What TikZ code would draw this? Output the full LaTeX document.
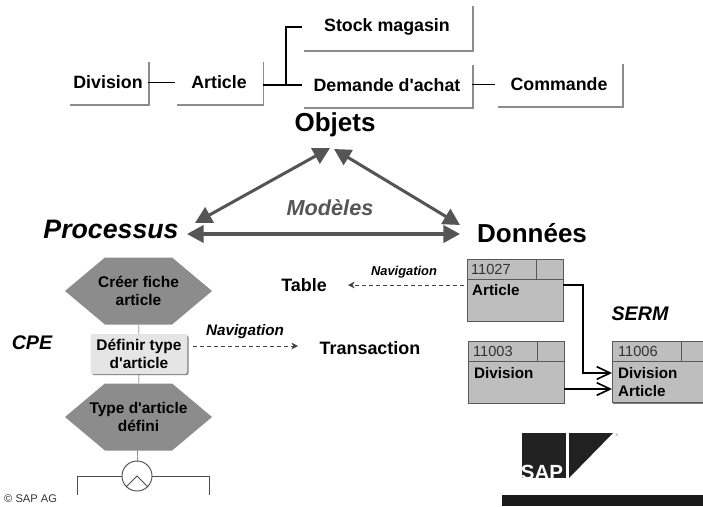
\documentclass[tikz,border=0pt]{standalone}
\usepackage{fontspec}
\setmainfont{Liberation Sans}
\usepackage[HTML]{xcolor}
\usetikzlibrary{positioning, arrows.meta, shadows, shapes.symbols}
\definecolor{hexgray}{HTML}{8C8C8C}
\definecolor{tabgray}{HTML}{BEBEBE}
\definecolor{arrowgray}{HTML}{555555}
\tikzset{
  whitebox/.style={rectangle,fill=white,text=black,font=\fontsize{15.2}{17}\selectfont\bfseries,drop shadow={shadow xshift=1.6pt,shadow yshift=-1.6pt,fill=black!45,opacity=1}},
  hexbox/.style={shape=signal,signal to=east and west,signal pointer angle=80,fill=hexgray,minimum width=4.41cm,minimum height=2.01cm,inner sep=0pt},
  hextxt/.style={align=center,inner sep=0pt,font=\fontsize{13.2}{15.8}\selectfont\bfseries},
  tabbox/.style={rectangle,fill=tabgray,draw=black!65,thick,drop shadow={shadow xshift=1.2pt,shadow yshift=-1.2pt,fill=gray,opacity=1}},
  tabtxt/.style={font=\fontsize{13}{15.5}\selectfont\bfseries,anchor=west,align=left},
  tabnum/.style={font=\fontsize{12.5}{15}\selectfont,text=black!80,anchor=west},
  bigtxt/.style={font=\fontsize{22.2}{24}\selectfont\bfseries},
  medtxt/.style={font=\fontsize{15.3}{17}\selectfont\bfseries},
  navtxt/.style={font=\fontsize{11}{13}\selectfont\bfseries\itshape},
  captxt/.style={font=\fontsize{16.8}{19}\selectfont\bfseries\itshape},
  modarrow/.style={{Triangle[length=5mm,width=5.2mm]}-{Triangle[length=5mm,width=5.2mm]},line width=2.6pt,arrowgray},
  navarrow/.style={-{Stealth[length=2mm,width=2mm]},dashed,black!75},
  barb/.style={-{Straight Barb[length=4mm,width=3.8mm]},line width=1.4pt}
}
\begin{document}
\begin{tikzpicture}[x=0.03cm,y=-0.03cm]
\useasboundingbox (0,0) rectangle (703,506);
% top row
\node[whitebox,minimum width=2.4cm,minimum height=1.32cm] (div) at (108,82) {Division};
\node[whitebox,minimum width=2.61cm,minimum height=1.32cm] (art) at (219,82) {Article};
\node[whitebox,minimum width=5.1cm,minimum height=1.38cm] (sto) at (387,27) {Stock magasin};
\node[whitebox,minimum width=5.1cm,minimum height=1.32cm] (dem) at (387,85) {Demande d\textquotesingle achat};
\node[whitebox,minimum width=3.8cm,minimum height=1.32cm] (com) at (559,84) {Commande};
\coordinate (jct) at (286,85);
\draw[thick] (div) -- (art);
\draw[line width=1.4pt] (art.east |- jct) -- (dem.west |- jct);
\draw[line width=1.4pt] (jct) |- (sto.west);
\draw[thick] (dem.east |- com) -- (com.west);
% triangle
\node[bigtxt] (obj) at (335,125) {Objets};
\node[bigtxt,font=\fontsize{22.8}{24}\selectfont\bfseries\itshape] (pro) at (111,229) {Processus};
\node[bigtxt] (don) at (532,233) {Données};
\node[captxt,font=\fontsize{18.5}{20}\selectfont\bfseries\itshape,text=arrowgray] (mod) at (330,208) {Modèles};
\coordinate (objl) at (330,148);
\coordinate (objr) at (334,149);
\coordinate (prot) at (195,223);
\coordinate (donl) at (460,225);
\coordinate (prob) at (187,234);
\coordinate (donb) at (460,234);
\draw[modarrow] (objl) -- (prot);
\draw[modarrow] (objr) -- (donl);
\draw[modarrow] (prob) -- (donb);
% process chain
\node[captxt] (cpe) at (32,343) {CPE};
\node[hexbox] (hexa) at (138.5,291) {};
\node[hextxt] (hexatxt) at (hexa) {Créer fiche\\article};
\node[rectangle,rounded corners=2pt,fill=black!10,minimum width=2.9cm,minimum height=1.2cm,inner sep=0pt,align=center,font=\fontsize{13.2}{15.8}\selectfont\bfseries,drop shadow={shadow xshift=1pt,shadow yshift=-1pt,fill=gray,opacity=1}] (dfn) at (139,354) {Définir type\\d\textquotesingle article};
\node[hexbox] (hexb) at (138.5,417) {};
\node[hextxt] (hexbtxt) at (hexb) {Type d\textquotesingle article\\défini};
\node[circle,draw=black!70,fill=white,thick,minimum size=0.9cm,inner sep=0pt] (opr) at (137,476) {};
\coordinate (lnl) at (77,495);
\coordinate (lnr) at (209,495);
\draw[black!70] (hexa) -- (dfn);
\draw[black!70] (dfn) -- (hexb);
\draw[black!70] (hexb) -- (opr);
\draw[black!70,thick] (opr.west) -| (lnl);
\draw[black!70,thick] (opr.east) -| (lnr);
\draw[black!70,thick] (opr.south west) -- (opr.center) -- (opr.south east);
% navigation
\node[medtxt] (tbl) at (304,285) {Table};
\node[medtxt] (trn) at (370,348) {Transaction};
\node[navtxt] (nava) at (404,272) {Navigation};
\node[navtxt,font=\fontsize{13}{15}\selectfont\bfseries\itshape] (navb) at (245,332) {Navigation};
\coordinate (tblr) at (464,285);
\coordinate (tbll) at (348,285);
\coordinate (trna) at (193,346);
\coordinate (trnb) at (298,346);
\draw[navarrow] (tblr) -- (tbll);
\draw[navarrow] (trna) -- (trnb);
% tables
\node[tabbox,minimum width=2.88cm,minimum height=1.86cm] (tba) at (515,290) {};
\node[tabbox,minimum width=2.88cm,minimum height=1.86cm] (tbb) at (516,372) {};
\node[tabbox,minimum width=3.3cm,minimum height=1.83cm] (tbc) at (667,372) {};
\draw[black!65,thick] (467,279) -- (563,279) (536,259) -- (536,279);
\draw[black!65,thick] (468,361) -- (564,361) (537,341) -- (537,361);
\draw[black!65,thick] (612,361) -- (722,361) (681,342) -- (681,361);
\node[tabnum] (numa) at (467,269) {11027};
\node[tabnum] (numb) at (469,351) {11003};
\node[tabnum] (numc) at (614,351) {11006};
\node[tabtxt] (txta) at (468,290) {Article};
\node[tabtxt] (txtb) at (470,373) {Division};
\node[tabtxt] (txtc) at (614,382) {Division\\Article};
\node[captxt] (serm) at (640,314) {SERM};
\coordinate (tcua) at (612,373);
\coordinate (tcub) at (612,389);
\draw[barb] (tba.east |- 0,285) -| (583,373) -- (tcua);
\draw[barb] (tbb.east |- tcub) -- (tcub);
% logo
\fill[black!87] (522,433) rectangle (566,478);
\fill[black!87] (569,433) -- (613,433) -- (569,478) -- cycle;
\node[anchor=south,inner sep=0pt,text=white,font=\fontsize{17.5}{18}\selectfont\bfseries] (sap) at (542,480) {SAP};
\node[font=\fontsize{3}{4}\selectfont,text=black!60] (reg) at (617,435) {®};
\fill[black!90] (502,495) rectangle (703,506);
\node[anchor=west,inner sep=0pt,font=\fontsize{9.5}{10}\selectfont,text=black!80] (cpy) at (4,499) {© SAP AG};
\end{tikzpicture}
\end{document}
